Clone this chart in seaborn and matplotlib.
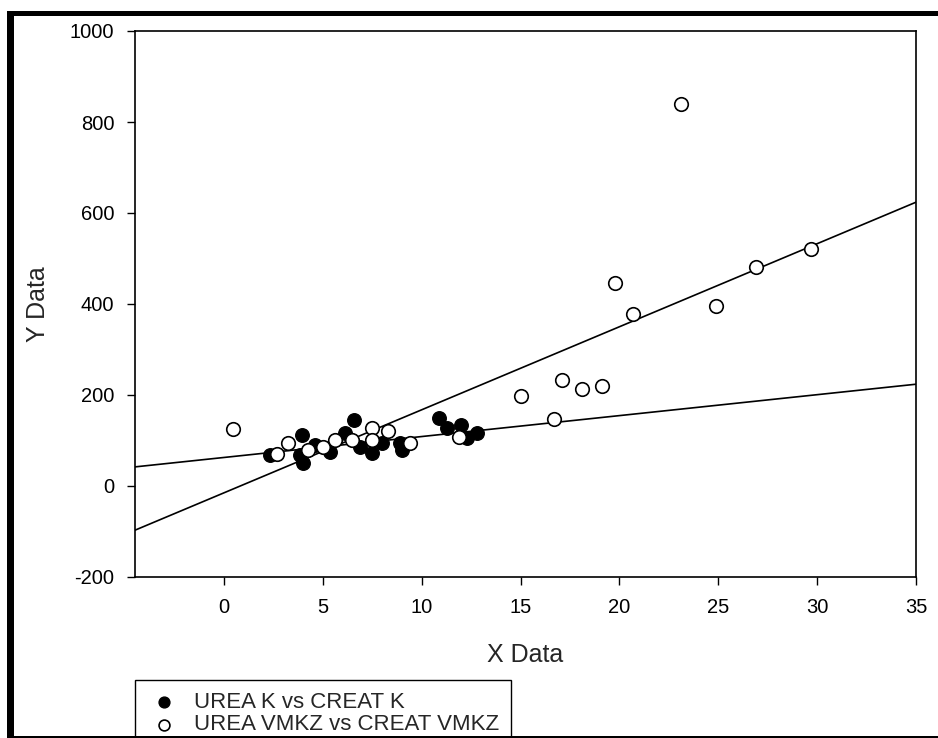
import matplotlib
matplotlib.use("Agg")
import matplotlib.pyplot as plt
from matplotlib.patches import Rectangle
import seaborn as sns
import pandas as pd

# Series 1: UREA K vs CREAT K (filled)
k_x = [2.32, 3.94, 3.84, 3.99, 4.6, 5.35, 6.1, 6.6, 6.9, 7.5, 8.0, 8.9, 9.0,
       10.9, 11.3, 12.0, 12.3, 12.8]
k_y = [68, 112, 68, 51, 90, 75, 116, 145, 86, 73, 95, 95, 79,
       149, 127, 134, 105, 116]

# Series 2: UREA VMKZ vs CREAT VMKZ (open)
v_x = [0.45, 2.68, 3.23, 4.24, 5.0, 5.6, 6.46, 7.5, 7.5, 8.3, 9.4, 11.9,
       15.0, 16.7, 17.1, 18.1, 19.1, 19.8, 20.7, 23.1, 24.9, 26.9, 29.7]
v_y = [125, 70, 95, 79, 86, 101, 101, 127, 101, 121, 95, 108,
       198, 147, 233, 213, 220, 446, 378, 840, 396, 481, 521]

# Fitted lines (intercept, slope)
k_fit = (62.7, 4.6)
v_fit = (-15.0, 18.25)

labels = ["UREA K vs CREAT K", "UREA VMKZ vs CREAT VMKZ"]
x_ticks = [0, 5, 10, 15, 20, 25, 30, 35]
y_ticks = [-200, 0, 200, 400, 600, 800, 1000]

sns.set_style("ticks")
plt.rcParams["font.family"] = ["Liberation Sans", "DejaVu Sans"]
plt.rcParams["axes.unicode_minus"] = False

W, H = 938, 738
fig = plt.figure(figsize=(W / 100, H / 100), dpi=100)
ax = fig.add_axes([135 / W, 1 - 577 / H, (916 - 135) / W, (577 - 31) / H])

df_k = pd.DataFrame({"x": k_x, "y": k_y})
df_v = pd.DataFrame({"x": v_x, "y": v_y})

for (b0, b1) in (k_fit, v_fit):
    ax.axline((0, b0), slope=b1, color="black", lw=1.2, zorder=2)

sns.scatterplot(data=df_k, x="x", y="y", ax=ax, color="black", edgecolor="black",
                s=95, linewidth=1.0, label=labels[0], zorder=3)
sns.scatterplot(data=df_v, x="x", y="y", ax=ax, color="white", edgecolor="black",
                s=95, linewidth=1.2, label=labels[1], zorder=4)

ax.set_xlim(-4.5, 35)
ax.set_ylim(-200, 1000)
ax.set_xticks(x_ticks)
ax.set_yticks(y_ticks)
ax.tick_params(axis="both", direction="out", length=6, width=1.0, colors="black",
               labelsize=14.5)
ax.tick_params(axis="x", pad=9)
ax.tick_params(axis="y", pad=9)
for sp in ax.spines.values():
    sp.set_visible(True)
    sp.set_color("black")
    sp.set_linewidth(1.2)
ax.set_xlabel("X Data", fontsize=18, labelpad=19)
ax.set_ylabel("Y Data", fontsize=18, labelpad=14)

leg = ax.legend(loc="upper left", bbox_to_anchor=(135 / W, 1 - 680 / H),
                bbox_transform=fig.transFigure, borderaxespad=0, frameon=True,
                fancybox=False, edgecolor="black", framealpha=1, fontsize=16,
                markerscale=0.8, handletextpad=0.55, borderpad=0.55,
                labelspacing=0.05, handlelength=1.55)
leg.get_frame().set_linewidth(1.0)

# outer frame of the original picture
fig.add_artist(Rectangle((7 / W, 0), 7 / W, 1 - 11 / H, transform=fig.transFigure,
                         color="black", lw=0))
fig.add_artist(Rectangle((7 / W, 1 - 16 / H), 1 - 7 / W, 5 / H, transform=fig.transFigure,
                         color="black", lw=0))
fig.add_artist(Rectangle((7 / W, 0), 1 - 7 / W, 2 / H, transform=fig.transFigure,
                         color="black", lw=0))

fig.savefig("out.png", dpi=100)
